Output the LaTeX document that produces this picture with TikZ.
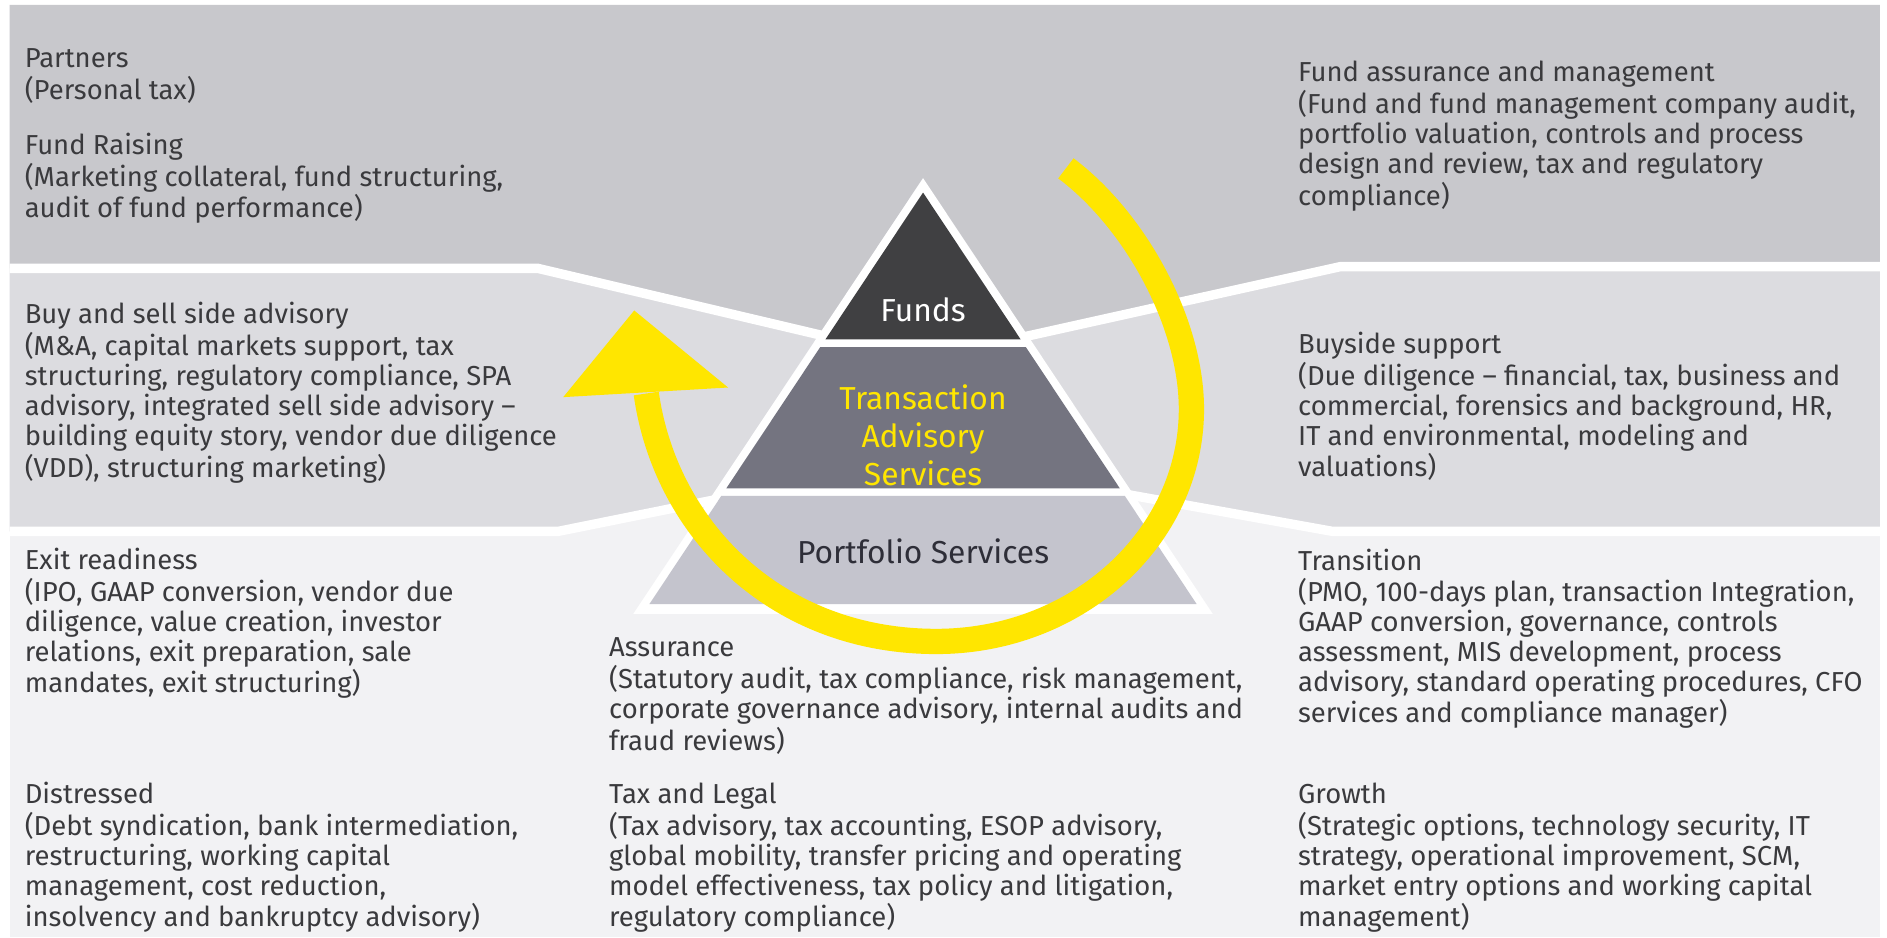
\documentclass[tikz,border=0pt]{standalone}
\usepackage{fontspec}
\setmainfont{Fira Sans}
\definecolor{bandA}{HTML}{C8C8CC}
\definecolor{bandB}{HTML}{DCDCE0}
\definecolor{bandC}{HTML}{F2F2F4}
\definecolor{fundsc}{HTML}{404042}
\definecolor{tasc}{HTML}{747480}
\definecolor{portc}{HTML}{C4C4CD}
\definecolor{eyyellow}{HTML}{FFE600}
\definecolor{txtgray}{HTML}{3A3A3D}
\definecolor{porttxt}{HTML}{2E2E38}
\newcommand{\blk}[1]{\begin{tabular}[t]{@{}l@{}}#1\end{tabular}}
\newcommand{\cblk}[1]{\begin{tabular}[t]{@{}c@{}}#1\end{tabular}}
\begin{document}
\begin{tikzpicture}[x=1pt,y=-1pt,
  body/.style={anchor=base west, inner sep=0pt, text=txtgray, font=\fontsize{22.8}{23.8}\selectfont},
  sepline/.style={draw=white, line width=7.8pt},
  pyrtext/.style={anchor=base, inner sep=0pt, font=\fontsize{26.4}{31.6}\selectfont},
  arcline/.style={draw=eyyellow, line width=21pt},
]
\useasboundingbox (0,0) rectangle (1568,779);
\fill[white] (0,0) rectangle (1568,779);
% bands
\fill[bandC] (8,4) rectangle (1562,779);
\fill[bandB] (8,223) -- (447,223) -- (767,298.5) -- (1114,221.5) -- (1562,221.5)
  -- (1562,441.5) -- (1107,441.5) -- (767,380.4) -- (464,441.5) -- (8,441.5) -- cycle;
\fill[bandA] (8,4) -- (1562,4) -- (1562,221.5) -- (1114,221.5) -- (767,298.5)
  -- (447,223) -- (8,223) -- cycle;
% separators
\draw[sepline] (8,223) -- (447,223) -- (767,298.5) -- (1114,221.5) -- (1562,221.5);
\draw[sepline] (8,441.5) -- (464,441.5) -- (767,380.4) -- (1107,441.5) -- (1562,441.5);
% pyramid
\coordinate (apex) at (767,148);
\fill[white] (apex) -- (1007.7,510) -- (526.3,510) -- cycle;
\fill[fundsc] (767,160) -- (848.1,282) -- (685.9,282) -- cycle;
\fill[tasc] (681.5,288.5) -- (852.5,288.5) -- (930.5,405.8) -- (603.5,405.8) -- cycle;
\fill[portc] (599.4,412) -- (934.6,412) -- (994.4,502) -- (539.6,502) -- cycle;
\node[pyrtext, text=white] (funds) at (767,267.3) {Funds};
\node[pyrtext, text=eyyellow] (tas) at (767,340) {\cblk{Transaction\\Advisory\\Services}};
\node[pyrtext, text=porttxt] (port) at (767,468) {Portfolio Services};
% yellow arrow
\coordinate (arcS) at (885.7,139.9);
\coordinate (arcR) at (990,340);
\coordinate (arcB) at (778,533);
\coordinate (arcL) at (537,327);
\draw[arcline] (arcS) .. controls (943.3,183.1) and (990,268) .. (arcR)
  .. controls (990,446.6) and (895.1,533) .. (arcB)
  .. controls (644.9,533) and (552.9,439.6) .. (arcL);
\fill[eyyellow] (468,330) -- (527,258) -- (605,322) -- cycle;
% text blocks
\node[body] (partners) at (20.4,56.2) {\blk{Partners\\(Personal tax)}};
\node[body] (fundraising) at (20.4,128.2) {\blk{Fund Raising\\(Marketing collateral, fund structuring,\\audit of fund performance)}};
\node[body] (fundassur) at (1078.5,67.9) {\blk{Fund assurance and management\\(Fund and fund management company audit,\\portfolio valuation, controls and process\\design and review, tax and regulatory\\compliance)}};
\node[body] (buysell) at (20.4,269.2) {\blk{Buy and sell side advisory\\(M\&A, capital markets support, tax\\structuring, regulatory compliance, SPA\\advisory, integrated sell side advisory –\\building equity story, vendor due diligence\\(VDD), structuring marketing)}};
\node[body] (buyside) at (1078.5,293.6) {\blk{Buyside support\\(Due diligence – financial, tax, business and\\commercial, forensics and background, HR,\\IT and environmental, modeling and\\valuations)}};
\node[body] (exit) at (20.4,473.1) {\blk{Exit readiness\\(IPO, GAAP conversion, vendor due\\diligence, value creation, investor\\relations, exit preparation, sale\\mandates, exit structuring)}};
\node[body] (distressed) at (20.4,667.5) {\blk{Distressed\\(Debt syndication, bank intermediation,\\restructuring, working capital\\management, cost reduction,\\insolvency and bankruptcy advisory)}};
\node[body] (assurance) at (506,545.7) {\blk{Assurance\\(Statutory audit, tax compliance, risk management,\\corporate governance advisory, internal audits and\\fraud reviews)}};
\node[body] (taxlegal) at (506,667.5) {\blk{Tax and Legal\\(Tax advisory, tax accounting, ESOP advisory,\\global mobility, transfer pricing and operating\\model effectiveness, tax policy and litigation,\\regulatory compliance)}};
\node[body] (transition) at (1078.5,473.7) {\blk{Transition\\(PMO, 100-days plan, transaction Integration,\\GAAP conversion, governance, controls\\assessment, MIS development, process\\advisory, standard operating procedures, CFO\\services and compliance manager)}};
\node[body] (growth) at (1078.5,667.5) {\blk{Growth\\(Strategic options, technology security, IT\\strategy, operational improvement, SCM,\\market entry options and working capital\\management)}};
\end{tikzpicture}
\end{document}
